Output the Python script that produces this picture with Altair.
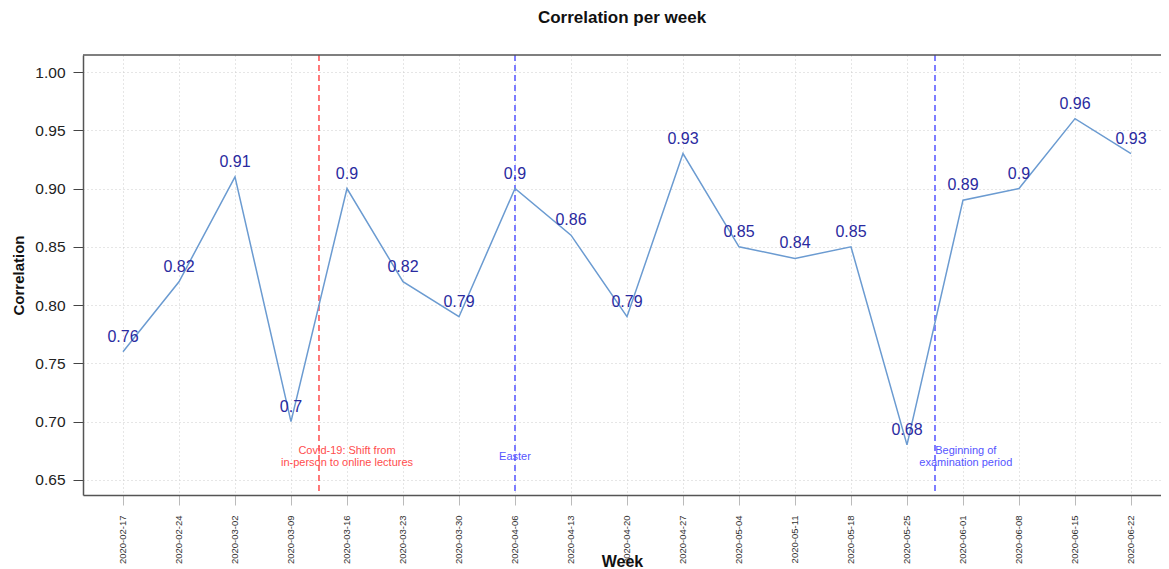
import altair as alt
import pandas as pd

dates = ["2020-02-17", "2020-02-24", "2020-03-02", "2020-03-09", "2020-03-16",
         "2020-03-23", "2020-03-30", "2020-04-06", "2020-04-13", "2020-04-20",
         "2020-04-27", "2020-05-04", "2020-05-11", "2020-05-18", "2020-05-25",
         "2020-06-01", "2020-06-08", "2020-06-15", "2020-06-22"]
values = [0.76, 0.82, 0.91, 0.70, 0.90, 0.82, 0.79, 0.90, 0.86, 0.79,
          0.93, 0.85, 0.84, 0.85, 0.68, 0.89, 0.90, 0.96, 0.93]

event_pos = [3.5, 7.0, 14.5]
event_color = ["#ff4d4d", "#5555ff", "#5555ff"]

note_text = ["Covid-19: Shift from", "in-person to online lectures", "Easter",
             "Beginning of", "examination period"]
note_x = [4.0, 4.0, 7.0, 15.05, 15.05]
note_y = [0.675, 0.6648, 0.670, 0.675, 0.6648]
note_color = ["#ff4d4d", "#ff4d4d", "#5555ff", "#5555ff", "#5555ff"]

df = pd.DataFrame({"idx": list(range(len(dates))), "date": dates, "corr": values})
ev = pd.DataFrame({"pos": event_pos, "color": event_color})
notes = pd.DataFrame({"x": note_x, "y": note_y, "text": note_text, "color": note_color})

font = "Liberation Sans"
label_expr = "[" + ",".join("'%s'" % d for d in dates) + "][datum.value]"

W = 1078
xscale = alt.Scale(domain=[-0.714, (W - 40) / 56.0], nice=False, zero=False)
yscale = alt.Scale(domain=[0.637, 1.0146], nice=False, zero=False)

frame = "#555555"
xaxis = alt.Axis(values=list(range(len(dates))), labelExpr=label_expr, labelAngle=270,
                 labelFontSize=9.5, labelColor="#333333", labelPadding=10,
                 tickColor="#bbbbbb", tickSize=10,
                 domain=True, domainColor=frame, domainWidth=1.5,
                 grid=True, gridDash=[1, 3], gridColor="#cccccc",
                 title="Week", titleFontSize=16, titleFontWeight="bold",
                 titleY=66, titleBaseline="middle", titleColor="#111111")
yaxis = alt.Axis(values=[0.65, 0.70, 0.75, 0.80, 0.85, 0.90, 0.95, 1.00], format=".2f",
                 labelFontSize=15.5, labelColor="#222222", labelPadding=8,
                 tickColor="#444444", tickSize=10,
                 domain=True, domainColor=frame, domainWidth=1.5,
                 grid=True, gridDash=[1, 3], gridColor="#cccccc",
                 title="Correlation", titleFontSize=15, titleFontWeight="bold",
                 titleX=-65, titleBaseline="middle", titleColor="#111111")

base = alt.Chart(df)
line = base.mark_line(color="#6b9bd1", strokeWidth=1.5).encode(
    x=alt.X("idx:Q", scale=xscale, axis=xaxis),
    y=alt.Y("corr:Q", scale=yscale, axis=yaxis),
)
labels = base.mark_text(dy=-15, fontSize=16, color="#2a2aa0", font=font).encode(
    x=alt.X("idx:Q", scale=xscale),
    y=alt.Y("corr:Q", scale=yscale),
    text=alt.Text("corr:Q", format=".2~f"),
)
rules = alt.Chart(ev).mark_rule(strokeDash=[6, 4], strokeWidth=1.5).encode(
    x=alt.X("pos:Q", scale=xscale),
    color=alt.Color("color:N", scale=None),
)
note_marks = alt.Chart(notes).mark_text(fontSize=11, font=font).encode(
    x=alt.X("x:Q", scale=xscale),
    y=alt.Y("y:Q", scale=yscale),
    text="text:N",
    color=alt.Color("color:N", scale=None),
)
top_frame = alt.Chart(pd.DataFrame({"k": [0]})).mark_rule(
    color=frame, strokeWidth=1.5
).encode(y=alt.value(0), x=alt.value(0), x2=alt.value(W))

chart = alt.layer(rules, line, labels, note_marks, top_frame).properties(
    width=W, height=440,
    title=alt.TitleParams("Correlation per week", fontSize=17, fontWeight="bold",
                          anchor="middle", offset=27, font=font, color="#111111"),
    autosize=alt.AutoSizeParams(type="none"),
    padding={"left": 75, "top": 47, "right": 0, "bottom": 76},
).configure_view(stroke=None).configure_axis(
    labelFont=font, titleFont=font
)

chart.save("out.html", embed_options={"renderer": "svg", "actions": False})
